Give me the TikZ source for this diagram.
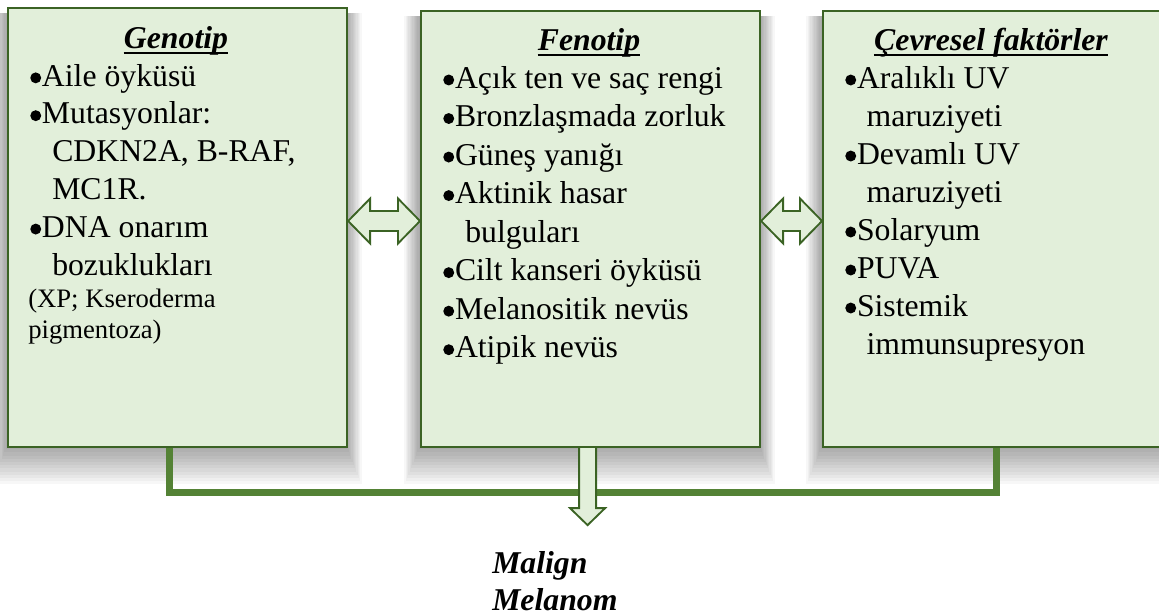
\documentclass[tikz,border=0pt]{standalone}
\usepackage{fontspec}
\setmainfont{Liberation Serif}
\usetikzlibrary{calc}

\definecolor{boxfill}{HTML}{E2EFDA}
\definecolor{boxline}{HTML}{3B6324}
\definecolor{linkgreen}{HTML}{548235}

% round list bullet as in the reference
\newcommand{\dotbul}{\tikz[x=1pt,y=1pt,baseline=-6.2pt]\fill (4.1,0) circle [radius=4.1];\hspace{0.6pt}}

\tikzset{
  panel/.style={draw=boxline, line width=1.6pt, fill=boxfill, anchor=north west,
    inner sep=0pt, minimum width=254.25pt},
  head/.style={anchor=base, inner sep=0pt, font=\fontsize{23.8}{28.5}\selectfont\bfseries\itshape},
  items/.style={anchor=north west, inner sep=0pt, align=left},
  link/.style={draw=linkgreen, line width=5.2pt},
  blockarrow/.style={draw=boxline, line width=1.4pt, fill=boxfill},
}

\begin{document}
\begin{tikzpicture}[x=0.75pt, y=-0.75pt]
\useasboundingbox (0,0) rectangle (1159,615);
\fill[white] (0,0) rectangle (1159,615);

% soft shadows under the three boxes
\foreach \l/\t/\r in {7/7/346, 420/10/759, 822/10/1161}{
  \foreach \k in {1,...,12}{
    \fill[black, opacity=0.03] (\l-\k*1.3, \t+6) rectangle (\r+\k*1.3, 446+\k*3.2);
  }
}

\node[panel, minimum height=329.25pt] (geno) at (7,7) {};
\node[panel, minimum height=327pt] (feno) at (420,10) {};
\node[panel, minimum height=327pt] (cevre) at (822,10) {};

\node[head] (genohead) at (176,48) {Genotip};
\node[head] (fenohead) at (589,50) {Fenotip};
\node[head] (cevrehead) at (991,50) {Çevresel faktörler};
\foreach \h in {genohead,fenohead,cevrehead}{
  \draw[line width=1.5pt] ([yshift=-3.6pt]\h.base west) -- ([yshift=-3.6pt]\h.base east);
}

\node[items, font=\fontsize{23.8}{28.35}\selectfont] (genolist) at (30,59.4)
  {\strut\dotbul Aile öyküsü\\
   \strut\dotbul Mutasyonlar:\\
   \strut\hspace*{16.5pt}CDKN2A, B-RAF,\\
   \strut\hspace*{16.5pt}MC1R.\\
   \strut\dotbul DNA onarım\\
   \strut\hspace*{16.5pt}bozuklukları};
\node[items, font=\fontsize{20}{23.3}\selectfont] (genonote) at (28,285.3)
  {\strut(XP; Kseroderma\\
   \strut pigmentoza)};

\node[items, font=\fontsize{23.8}{28.9}\selectfont] (fenolist) at (443,61)
  {\strut\dotbul Açık ten ve saç rengi\\
   \strut\dotbul Bronzlaşmada zorluk\\
   \strut\dotbul Güneş yanığı\\
   \strut\dotbul Aktinik hasar\\
   \strut\hspace*{16.5pt}bulguları\\
   \strut\dotbul Cilt kanseri öyküsü\\
   \strut\dotbul Melanositik nevüs\\
   \strut\dotbul Atipik nevüs};

\node[items, font=\fontsize{23.8}{28.5}\selectfont] (cevrelist) at (845,61.4)
  {\strut\dotbul Aralıklı UV\\
   \strut\hspace*{16pt}maruziyeti\\
   \strut\dotbul Devamlı UV\\
   \strut\hspace*{16pt}maruziyeti\\
   \strut\dotbul Solaryum\\
   \strut\dotbul PUVA\\
   \strut\dotbul Sistemik\\
   \strut\hspace*{16pt}immunsupresyon};

% two way arrows between the boxes
\coordinate (row) at (0,221);
\foreach \a/\b in {geno/feno, feno/cevre}{
  \coordinate (p) at (\a.east |- row);
  \coordinate (q) at (\b.west |- row);
  \draw[blockarrow] (p) -- ($(p)+(22,-22.5)$) -- ($(p)+(22,-10)$) -- ($(q)+(-22,-10)$)
    -- ($(q)+(-22,-22.5)$) -- (q) -- ($(q)+(-22,22.5)$) -- ($(q)+(-22,10)$)
    -- ($(p)+(22,10)$) -- ($(p)+(22,22.5)$) -- cycle;
}

% bottom bracket and result
\draw[link] ($(geno.south)+(-8,0)$) -- ($(geno.south)+(-8,44)$)
  -- ($(cevre.south)+(4,44)$) -- ($(cevre.south)+(4,0)$);
\coordinate (tip) at ($(feno.south)+(-3,77)$);
\draw[blockarrow] ($(feno.south)+(-11.5,0)$) -- ($(tip)+(-8.5,-17)$) -- ($(tip)+(-17.5,-17)$)
  -- (tip) -- ($(tip)+(17.5,-17)$) -- ($(tip)+(8.5,-17)$) -- ($(feno.south)+(5.5,0)$);

\node[items, font=\fontsize{23.8}{27.75}\selectfont\bfseries\itshape] (result) at (492,547.1)
  {\strut Malign\\
   \strut Melanom};
\end{tikzpicture}
\end{document}
